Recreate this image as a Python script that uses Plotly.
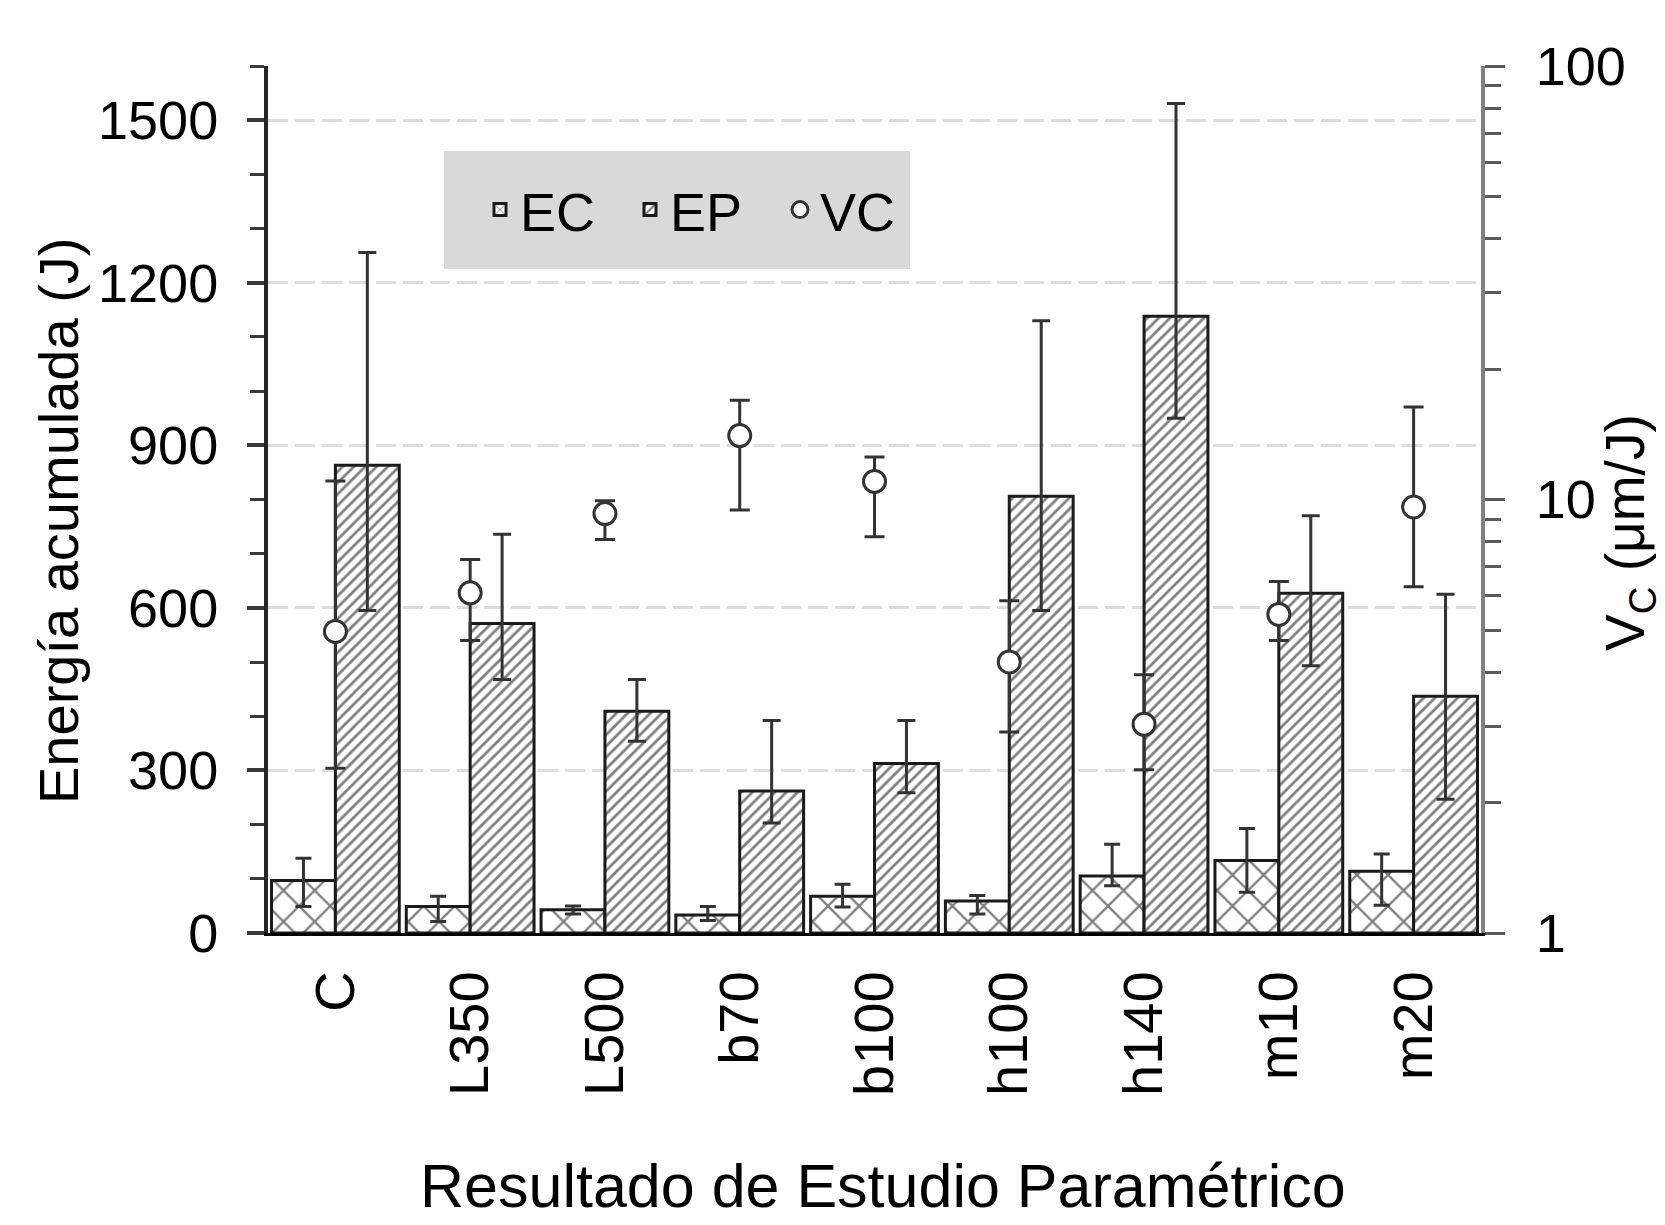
import plotly.graph_objects as go

# ---------------- data ----------------
categories = ["C", "L350", "L500", "b70", "b100", "h100", "h140", "m10", "m20"]

ec_values = [97, 49, 43, 33, 68, 59, 105, 134, 114]
ec_err_plus = [41, 19, 7, 16, 22, 10, 59, 59, 32]
ec_err_minus = [48, 28, 8, 10, 20, 24, 18, 59, 63]

ep_values = [863, 571, 409, 262, 313, 806, 1138, 627, 437]
ep_err_plus = [393, 165, 59, 130, 79, 324, 393, 143, 188]
ep_err_minus = [268, 103, 55, 59, 54, 211, 188, 134, 190]

vc_values = [4.96, 6.09, 9.28, 14.04, 11.01, 4.22, 3.03, 5.43, 9.61]
vc_upper = [11.03, 7.27, 9.94, 16.94, 12.53, 5.84, 3.94, 6.47, 16.35]
vc_lower = [2.40, 4.73, 8.09, 9.46, 8.20, 2.91, 2.38, 4.73, 6.29]

left_ticks = [0, 300, 600, 900, 1200, 1500]

# ---------------- figure ----------------
W, H = 1665, 1225
L, R, T, B = 268, 184, 66, 292
PW, PH = W - L - R, H - T - B

FONT = "Liberation Sans, Arial, Helvetica, sans-serif"

def px_x(px):
    return (px - L) / PW

def px_y(py):
    return (H - B - py) / PH

vc_plus = [u - v for u, v in zip(vc_upper, vc_values)]
vc_minus = [v - l for v, l in zip(vc_values, vc_lower)]

fig = go.Figure()

fig.add_trace(go.Bar(
    x=categories, y=ec_values, name="EC",
    marker=dict(
        color="white",
        line=dict(color="#1a1a1a", width=3),
        pattern=dict(shape="x", size=22, solidity=0.2,
                     fgcolor="black", bgcolor="white"),
    ),
    error_y=dict(type="data", symmetric=False, array=ec_err_plus,
                 arrayminus=ec_err_minus, color="#333333",
                 thickness=3, width=8),
))

fig.add_trace(go.Bar(
    x=categories, y=ep_values, name="EP",
    marker=dict(
        color="white",
        line=dict(color="#1a1a1a", width=3),
        pattern=dict(shape="/", size=8, solidity=0.35,
                     fgcolor="black", bgcolor="white"),
    ),
    error_y=dict(type="data", symmetric=False, array=ep_err_plus,
                 arrayminus=ep_err_minus, color="#333333",
                 thickness=3, width=9),
))

fig.add_trace(go.Scatter(
    x=categories, y=vc_values, name="VC", yaxis="y2", mode="markers",
    marker=dict(symbol="circle", size=22, color="white",
                line=dict(color="#333333", width=3)),
    error_y=dict(type="data", symmetric=False, array=vc_plus,
                 arrayminus=vc_minus, color="#333333",
                 thickness=3, width=10),
))

fig.update_layout(
    width=W, height=H,
    margin=dict(l=L, r=R, t=T, b=B, pad=0),
    paper_bgcolor="white", plot_bgcolor="white",
    font=dict(family=FONT, size=54, color="black"),
    barmode="group", bargap=0.052, bargroupgap=0,
    showlegend=True,
    legend=dict(
        orientation="h", x=px_x(480), y=px_y(210),
        xanchor="left", yanchor="middle",
        bgcolor="rgba(0,0,0,0)", borderwidth=0,
        font=dict(family=FONT, size=54, color="black"),
        itemwidth=30, entrywidth=105,
    ),
    xaxis=dict(
        type="category", range=[-0.5, 8.5],
        showline=True, linecolor="black", linewidth=3,
        ticks="", tickangle=-90, ticklabelstandoff=13,
        tickfont=dict(family=FONT, size=56, color="black"),
        showgrid=False, zeroline=False,
    ),
    yaxis=dict(
        range=[0, 1600], tickvals=left_ticks,
        showline=True, linecolor="#262626", linewidth=4,
        ticks="outside", ticklen=17, tickwidth=4, tickcolor="#3a3a3a",
        minor=dict(dtick=100, tick0=0, ticks="outside", ticklen=14,
                   tickwidth=3, tickcolor="#3a3a3a", showgrid=False),
        showgrid=True, gridcolor="#dcdcdc", gridwidth=3,
        griddash="20px,7px",
        zeroline=False, ticklabelstandoff=18,
        tickfont=dict(family=FONT, size=54, color="black"),
    ),
    yaxis2=dict(
        type="log", range=[0, 2], overlaying="y", side="right",
        dtick=1,
        showline=True, linecolor="#808080", linewidth=4,
        ticks="outside", ticklen=20, tickwidth=3, tickcolor="#5a5a5a",
        minor=dict(ticks="outside", ticklen=16, tickwidth=3,
                   tickcolor="#5a5a5a", dtick="D1", showgrid=False),
        showgrid=False, zeroline=False, ticklabelstandoff=20,
        tickfont=dict(family=FONT, size=54, color="black"),
    ),
    shapes=[dict(
        type="rect", xref="x domain", yref="y domain",
        x0=px_x(444), x1=px_x(910), y0=px_y(269), y1=px_y(151),
        fillcolor="#d9d9d9", line=dict(width=0), layer="below",
    )],
    annotations=[
        dict(text="Resultado de Estudio Paramétrico", xref="paper", yref="paper",
             x=px_x(883), y=px_y(1186), xanchor="center", yanchor="middle",
             showarrow=False, font=dict(family=FONT, size=61, color="black")),
        dict(text="Energía acumulada (J)", xref="paper", yref="paper",
             x=px_x(58), y=px_y(521), xanchor="center", yanchor="middle",
             textangle=-90, showarrow=False,
             font=dict(family=FONT, size=56, color="black")),
        dict(text="V<sub>C</sub> (μm/J)", xref="paper", yref="paper",
             x=px_x(1629), y=px_y(533), xanchor="center", yanchor="middle",
             textangle=-90, showarrow=False,
             font=dict(family=FONT, size=55, color="black")),
    ],
)

fig.write_html("out.html", config={"displayModeBar": False},
               post_script="document.body.style.margin='0';")
